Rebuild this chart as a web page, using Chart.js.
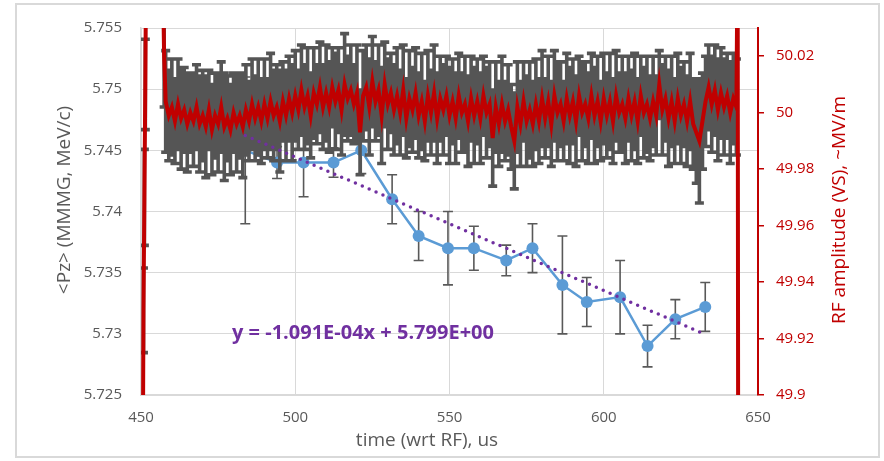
<!DOCTYPE html>
<html>
<head>
<meta charset="utf-8">
<script src="https://cdn.jsdelivr.net/npm/chart.js@4.4.0/dist/chart.umd.min.js"></script>
<style>
  html, body { margin: 0; padding: 0; background: #fff; }
  #wrap { width: 884px; height: 461px; }
</style>
</head>
<body>
<div id="wrap"><canvas id="pzChart" width="884" height="461"></canvas></div>
<script>
// <Pz> from MMMG, binned in time
const pzTime = [483.8, 494.1, 502.7, 512.4, 521.4, 531.4, 540.0, 549.5, 557.9, 568.4, 576.9, 586.6, 594.5, 605.3, 614.2, 623.2, 632.9];
const pzValue = [5.745, 5.744, 5.744, 5.744, 5.745, 5.741, 5.738, 5.737, 5.737, 5.736, 5.737, 5.734, 5.7326, 5.733, 5.729, 5.7312, 5.7322];
const pzErr = [0.006, 0.0013, 0.0028, 0.0012, 0.0019, 0.002, 0.002, 0.003, 0.0018, 0.00125, 0.002, 0.004, 0.002, 0.003, 0.0017, 0.0016, 0.002];

// linear fit shown on the plot
const fitSlope = -1.091e-4;
const fitIntercept = 5.799;
const fitLabel = 'y = -1.091E-04x + 5.799E+00';

// RF amplitude (VS) trace, with its spread
const rfTime = [
  450.5, 450.8, 451.1, 451.4, 451.7, 456.9, 457.5,
  458, 459, 460, 461, 462, 463, 464, 465, 466, 467,
  468, 469, 470, 471, 472, 473, 474, 475, 476, 477,
  478, 479, 480, 481, 482, 483, 484, 485, 486, 487,
  488, 489, 490, 491, 492, 493, 494, 495, 496, 497,
  498, 499, 500, 501, 502, 503, 504, 505, 506, 507,
  508, 509, 510, 511, 512, 513, 514, 515, 516, 517,
  518, 519, 520, 521, 522, 523, 524, 525, 526, 527,
  528, 529, 530, 531, 532, 533, 534, 535, 536, 537,
  538, 539, 540, 541, 542, 543, 544, 545, 546, 547,
  548, 549, 550, 551, 552, 553, 554, 555, 556, 557,
  558, 559, 560, 561, 562, 563, 564, 565, 566, 567,
  568, 569, 570, 571, 572, 573, 574, 575, 576, 577,
  578, 579, 580, 581, 582, 583, 584, 585, 586, 587,
  588, 589, 590, 591, 592, 593, 594, 595, 596, 597,
  598, 599, 600, 601, 602, 603, 604, 605, 606, 607,
  608, 609, 610, 611, 612, 613, 614, 615, 616, 617,
  618, 619, 620, 621, 622, 623, 624, 625, 626, 627,
  628, 629, 630, 631, 632, 633, 634, 635, 636, 637,
  638, 639, 640, 641, 642, 643,
  643.4, 643.6
];
const rfAmp = [
  49.85, 49.93, 49.97, 50.01, 50.06, 50.06, 50.02,
  50.004, 49.999, 50.002, 49.997, 50.003, 49.998, 50.001, 49.996, 50.000, 49.997,
  50.002, 49.996, 49.999, 49.995, 50.001, 49.994, 49.999, 49.996, 50.002, 49.995,
  49.998, 49.994, 50.000, 49.996, 49.999, 49.995, 50.001, 49.997, 50.003, 49.998,
  50.002, 49.997, 50.003, 49.998, 50.004, 49.999, 50.002, 49.997, 50.004, 49.999,
  50.005, 50.000, 50.006, 50.001, 50.008, 50.002, 50.006, 49.999, 50.007, 50.003,
  50.009, 50.002, 50.007, 50.002, 50.009, 50.004, 50.008, 50.001, 50.010, 50.005,
  50.008, 50.003, 50.007, 49.993, 50.006, 50.009, 50.002, 50.011, 50.004, 50.008,
  49.999, 50.010, 50.003, 50.007, 50.001, 50.006, 50.000, 50.008, 49.998, 50.005,
  50.001, 50.007, 49.999, 50.004, 49.997, 50.006, 50.000, 50.007, 49.998, 50.005,
  50.001, 50.006, 49.999, 50.004, 49.998, 50.006, 50.000, 50.003, 49.997, 50.005,
  49.999, 50.004, 49.998, 50.006, 50.000, 50.003, 49.991, 50.002, 49.996, 50.003,
  49.997, 50.001, 49.995, 49.990, 50.002, 49.996, 50.004, 49.997, 50.001, 49.996,
  50.003, 49.997, 50.005, 49.998, 50.004, 49.996, 50.006, 50.000, 50.003, 49.997,
  50.005, 49.999, 50.004, 49.997, 50.006, 50.000, 50.003, 49.998, 50.006, 49.999,
  50.004, 49.997, 50.005, 49.999, 50.004, 49.997, 50.006, 50.000, 50.003, 49.998,
  50.005, 49.999, 50.004, 49.997, 50.006, 50.000, 50.003, 49.998, 50.004, 49.999,
  50.010, 50.001, 50.005, 49.998, 50.004, 49.997, 50.005, 49.999, 50.003, 49.997,
  50.004, 49.996, 49.993, 49.990, 49.997, 50.004, 50.009, 50.003, 50.008, 50.001,
  50.007, 50.002, 50.006, 50.000, 50.005, 50.002,
  50.06, 49.85
];
const rfErr = [
  0.016, 0.015, 0.017, 0.016, 0.015, 0.017, 0.018,
  0.018, 0.016, 0.017, 0.015, 0.016, 0.018, 0.015, 0.017, 0.014, 0.016,
  0.015, 0.017, 0.016, 0.018, 0.014, 0.016, 0.015, 0.017, 0.016, 0.019,
  0.015, 0.016, 0.014, 0.017, 0.015, 0.018, 0.016, 0.014, 0.016, 0.015,
  0.017, 0.015, 0.016, 0.014, 0.017, 0.016, 0.015, 0.018, 0.014, 0.016,
  0.015, 0.017, 0.016, 0.014, 0.016, 0.015, 0.017, 0.015, 0.016, 0.014,
  0.016, 0.015, 0.017, 0.016, 0.014, 0.017, 0.015, 0.016, 0.018, 0.015,
  0.016, 0.014, 0.017, 0.015, 0.016, 0.015, 0.017, 0.016, 0.014, 0.016,
  0.017, 0.015, 0.016, 0.014, 0.016, 0.017, 0.015, 0.016, 0.014, 0.017,
  0.015, 0.016, 0.015, 0.017, 0.014, 0.016, 0.015, 0.017, 0.016, 0.015,
  0.016, 0.014, 0.017, 0.015, 0.016, 0.015, 0.014, 0.017, 0.016, 0.015,
  0.017, 0.015, 0.016, 0.014, 0.016, 0.015, 0.017, 0.016, 0.015, 0.017,
  0.014, 0.016, 0.015, 0.017, 0.016, 0.015, 0.014, 0.016, 0.017, 0.015,
  0.016, 0.015, 0.017, 0.014, 0.016, 0.015, 0.016, 0.017, 0.015, 0.014,
  0.016, 0.017, 0.015, 0.016, 0.014, 0.017, 0.015, 0.016, 0.015, 0.017,
  0.016, 0.014, 0.016, 0.015, 0.017, 0.015, 0.016, 0.014, 0.017, 0.016,
  0.015, 0.016, 0.017, 0.015, 0.014, 0.016, 0.017, 0.015, 0.016, 0.014,
  0.012, 0.016, 0.015, 0.017, 0.016, 0.015, 0.016, 0.017, 0.015, 0.016,
  0.017, 0.016, 0.018, 0.022, 0.017, 0.016, 0.015, 0.017, 0.016, 0.018,
  0.016, 0.017, 0.015, 0.018, 0.016, 0.017,
  0.017, 0.016
];

// axis ticks
const timeTicks = [450, 500, 550, 600, 650];
const pzTicks = [5.725, 5.73, 5.735, 5.74, 5.745, 5.75, 5.755];
const rfTicks = [49.9, 49.92, 49.94, 49.96, 49.98, 50, 50.02];

const FONT = '"Open Sans", sans-serif';
const GREY_TEXT = '#595959';
const RF_RED = '#C00000';
const GRID = '#d9d9d9';

// draws vertical error bars under a dataset, using its own y scale
const errorBars = {
  id: 'errorBars',
  beforeDatasetDraw(chart, args) {
    const ds = chart.data.datasets[args.index];
    if (!ds.errors) return;
    const meta = args.meta;
    const yScale = chart.scales[meta.yAxisID];
    const area = chart.chartArea;
    const ctx = chart.ctx;
    ctx.save();
    ctx.beginPath();
    ctx.rect(area.left, area.top, area.right - area.left, area.bottom - area.top);
    ctx.clip();
    ctx.strokeStyle = ds.errorColor;
    ctx.lineWidth = ds.errorWidth;
    ctx.beginPath();
    meta.data.forEach((pt, i) => {
      const v = ds.data[i].y;
      const e = ds.errors[i];
      const top = yScale.getPixelForValue(v + e);
      const bot = yScale.getPixelForValue(v - e);
      const c = ds.capHalf;
      ctx.moveTo(pt.x, top); ctx.lineTo(pt.x, bot);
      ctx.moveTo(pt.x - c, top); ctx.lineTo(pt.x + c, top);
      ctx.moveTo(pt.x - c, bot); ctx.lineTo(pt.x + c, bot);
    });
    ctx.stroke();
    ctx.restore();
  }
};

// frame, axis titles and the fit equation
const decorations = {
  id: 'decorations',
  beforeDraw(chart) {
    const ctx = chart.ctx;
    ctx.save();
    ctx.fillStyle = '#fff';
    ctx.fillRect(0, 0, chart.width, chart.height);
    ctx.strokeStyle = GRID;
    ctx.lineWidth = 2;
    ctx.strokeRect(16, 4, 863, 453);
    ctx.restore();
  },
  afterDraw(chart) {
    const ctx = chart.ctx;
    ctx.save();
    ctx.textAlign = 'center';
    ctx.textBaseline = 'middle';
    ctx.font = '19px ' + FONT;

    ctx.fillStyle = GREY_TEXT;
    ctx.fillText('time (wrt RF), us', 427, 441);

    ctx.save();
    ctx.translate(65, 200);
    ctx.rotate(-Math.PI / 2);
    ctx.fillText('<Pz> (MMMG, MeV/c)', 0, 0);
    ctx.restore();

    ctx.save();
    ctx.fillStyle = RF_RED;
    ctx.translate(840, 210);
    ctx.rotate(-Math.PI / 2);
    ctx.fillText('RF amplitude (VS), ~MV/m', 0, 0);
    ctx.restore();

    ctx.fillStyle = '#7030A0';
    ctx.font = 'bold 20px ' + FONT;
    ctx.textAlign = 'left';
    ctx.fillText(fitLabel, 232, 333);
    ctx.restore();
  }
};

const pzPoints = pzTime.map((t, i) => ({ x: t, y: pzValue[i] }));
const rfPoints = rfTime.map((t, i) => ({ x: t, y: rfAmp[i] }));
const fitX = [pzTime[0], pzTime[pzTime.length - 1]];
const fitPoints = fitX.map(t => ({ x: t, y: fitSlope * t + fitIntercept }));

const ctx = document.getElementById('pzChart').getContext('2d');
new Chart(ctx, {
  type: 'line',
  data: {
    datasets: [
      {
        label: '<Pz>',
        data: pzPoints,
        yAxisID: 'y',
        order: 3,
        borderColor: '#5B9BD5',
        backgroundColor: '#5B9BD5',
        borderWidth: 2.5,
        pointRadius: 6,
        pointBorderWidth: 0,
        pointBackgroundColor: '#5B9BD5',
        errors: pzErr,
        errorColor: '#595959',
        errorWidth: 1.6,
        capHalf: 5
      },
      {
        label: 'RF amplitude',
        data: rfPoints,
        yAxisID: 'yRF',
        order: 2,
        borderColor: RF_RED,
        borderWidth: 4,
        pointRadius: 0,
        errors: rfErr,
        errorColor: '#555555',
        errorWidth: 3.6,
        capHalf: 4.5
      },
      {
        label: 'Linear fit',
        data: fitPoints,
        yAxisID: 'y',
        order: 1,
        borderColor: '#7030A0',
        borderWidth: 3.5,
        borderDash: [0, 7.5],
        borderCapStyle: 'round',
        pointRadius: 0
      }
    ]
  },
  options: {
    responsive: false,
    animation: false,
    layout: { padding: { top: 27, left: 0, right: 0, bottom: 0 } },
    plugins: { legend: { display: false }, tooltip: { enabled: false } },
    scales: {
      x: {
        type: 'linear',
        position: 'bottom',
        min: 450,
        max: 650,
        afterBuildTicks: s => { s.ticks = timeTicks.map(v => ({ value: v })); },
        afterFit: s => { s.height = 66; },
        grid: {
          color: c => (c.tick && c.tick.value === 650 ? 'rgba(0,0,0,0)' : GRID),
          drawTicks: false
        },
        border: { color: GRID, width: 1.5 },
        ticks: { color: GREY_TEXT, font: { family: FONT, size: 15 }, padding: 14, maxRotation: 0 }
      },
      y: {
        position: 'left',
        min: 5.725,
        max: 5.755,
        afterBuildTicks: s => { s.ticks = pzTicks.map(v => ({ value: v })); },
        afterFit: s => { s.width = 141; },
        grid: { color: GRID, drawTicks: false },
        border: { color: GRID, width: 1.5 },
        ticks: {
          color: GREY_TEXT,
          font: { family: FONT, size: 15 },
          padding: 19,
          callback: v => String(+v.toFixed(3))
        }
      },
      yRF: {
        position: 'right',
        min: 49.9,
        max: 50.03,
        afterBuildTicks: s => { s.ticks = rfTicks.map(v => ({ value: v })); },
        afterFit: s => { s.width = 126; },
        grid: { drawOnChartArea: false, color: RF_RED, tickLength: 6, lineWidth: 1.5 },
        border: { color: RF_RED, width: 2 },
        ticks: {
          color: RF_RED,
          font: { family: FONT, size: 15 },
          padding: 12,
          callback: v => String(+v.toFixed(2))
        }
      }
    }
  },
  plugins: [errorBars, decorations]
});
</script>
</body>
</html>
